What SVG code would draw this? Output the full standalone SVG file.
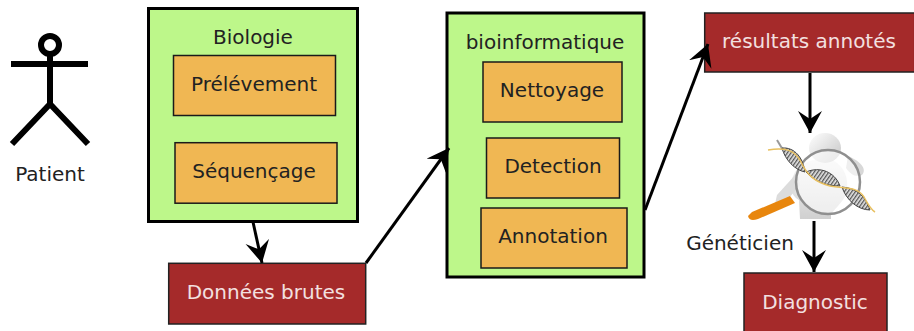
<svg xmlns="http://www.w3.org/2000/svg" width="914" height="331" viewBox="0 0 914 331">
<style>
text{font-family:"DejaVu Sans",sans-serif;font-size:20px;text-anchor:middle}
.g{fill:#bdf78a;stroke:#000;stroke-width:3}
.o{fill:#f0b753;stroke:#1a1a1a;stroke-width:1.5}
.r{fill:#a52a2a;stroke:#222;stroke-width:1.5}
.dk{fill:#222}
.lt{fill:#f3e0e0}
.c{fill:none;stroke:#000;stroke-width:3;marker-end:url(#a)}
.s{fill:none;stroke:#000;stroke-width:6}
.l{fill:url(#st);stroke:#444;stroke-width:1}
</style>
<defs>
<marker id="a" markerUnits="userSpaceOnUse" markerWidth="30" markerHeight="30" refX="22" refY="12" orient="auto">
<path d="M0 0L22 12L0 24L8 12Z" fill="#000"/>
</marker>
<linearGradient id="h" x1="0" y1="0" x2="1" y2="1"><stop offset="0" stop-color="#fff"/><stop offset="1" stop-color="#c4c4c4"/></linearGradient>
<linearGradient id="k" x1="0" y1="0" x2="0" y2="1"><stop offset="0" stop-color="#f4f4f4"/><stop offset="1" stop-color="#d0d0d0"/></linearGradient>
<pattern id="st" width="3" height="3" patternUnits="userSpaceOnUse" patternTransform="rotate(35)"><rect width="3" height="3" fill="#e4e4e4"/><rect width="1.300" height="3" fill="#555"/></pattern>
<filter id="b" x="-10%" y="-10%" width="120%" height="120%"><feGaussianBlur stdDeviation="0.400"/></filter>
</defs>
<g id="patient">
<circle cx="50" cy="45" r="9" fill="#fff" stroke="#000" stroke-width="6"/>
<path class="s" d="M11 64H88M50 55V104M50 104L12 144M50 104L88 144"/>
<text x="50" y="181" class="dk">Patient</text>
</g>
<g id="biologie">
<rect class="g" x="148.500" y="8.500" width="209" height="213"/>
<text x="253" y="44" class="dk">Biologie</text>
</g>
<g id="prelevement"><rect class="o" x="173.500" y="55.500" width="162" height="60"/><text x="254" y="91" class="dk">Prélévement</text></g>
<g id="sequencage"><rect class="o" x="175" y="142.700" width="162" height="60.500"/><text x="254" y="178" class="dk">Séquençage</text></g>
<g id="donnees"><rect class="r" x="168.700" y="263.300" width="197" height="60.700"/><text x="266" y="299" class="lt">Données brutes</text></g>
<g id="bioinformatique">
<rect class="g" x="447" y="13" width="197" height="264"/>
<text x="545" y="49" class="dk">bioinformatique</text>
</g>
<g id="nettoyage"><rect class="o" x="483" y="62" width="139" height="60"/><text x="552" y="97" class="dk">Nettoyage</text></g>
<g id="detection"><rect class="o" x="486.500" y="138" width="133" height="60"/><text x="553" y="173" class="dk">Detection</text></g>
<g id="annotation"><rect class="o" x="481" y="208" width="146" height="60"/><text x="553" y="243" class="dk">Annotation</text></g>
<g id="resultats"><rect class="r" x="704.700" y="13" width="210" height="59"/><text x="809" y="48" class="lt">résultats annotés</text></g>
<g id="geneticien">
<g filter="url(#b)">
<path d="M800 219L799 200C790 195 788 185 795 172C805 160 815 158 832 160C845 166 850 180 846 195C840 205 834 210 831 214V219Z" fill="url(#k)"/>
<ellipse cx="825" cy="148" rx="16" ry="15" fill="url(#h)"/>
<path d="M848 156C858 160 868 168 862 175C856 178 850 174 846 168Z" fill="#d8d8d8"/>
<path d="M797 173L777 195L775 204L783 205L800 185Z" fill="#dcdcdc"/>
<circle cx="828" cy="182" r="32" fill="#fff" fill-opacity=".6" stroke="#8f8f8f" stroke-width="2.500"/>
<path d="M748 216L752 212L790 196L795 203L758 219C752 221 749 220 748 216Z" fill="#e8860f"/>
<path d="M777 140L783 150" fill="none" stroke="#999" stroke-width="2"/>
<path class="l" d="M782 148C795 147 803 158 805 172C795 170 785 160 782 148Z"/>
<path class="l" d="M806 172C820 166 835 172 840 186C828 186 815 182 806 172Z"/>
<path class="l" d="M842 187C858 188 866 198 870 210C858 210 846 200 842 187Z"/>
<path d="M768 150C785 147 795 150 801 162C807 175 815 182 830 186C845 189 857 186 864 197C868 204 870 209 875 212" fill="none" stroke="#e8c060" stroke-width="1.500"/>
</g>
<text x="740" y="250" class="dk">Généticien</text>
</g>
<g id="diagnostic"><rect class="r" x="744" y="273" width="143" height="59"/><text x="815" y="309" class="lt">Diagnostic</text></g>
<g id="connectors">
<path class="c" d="M253 222L262 263"/>
<path class="c" d="M366 263L449 148"/>
<path class="c" d="M645 210L708 44"/>
<path class="c" d="M810 73V133"/>
<path class="c" d="M814 221V272"/>
</g>
</svg>
